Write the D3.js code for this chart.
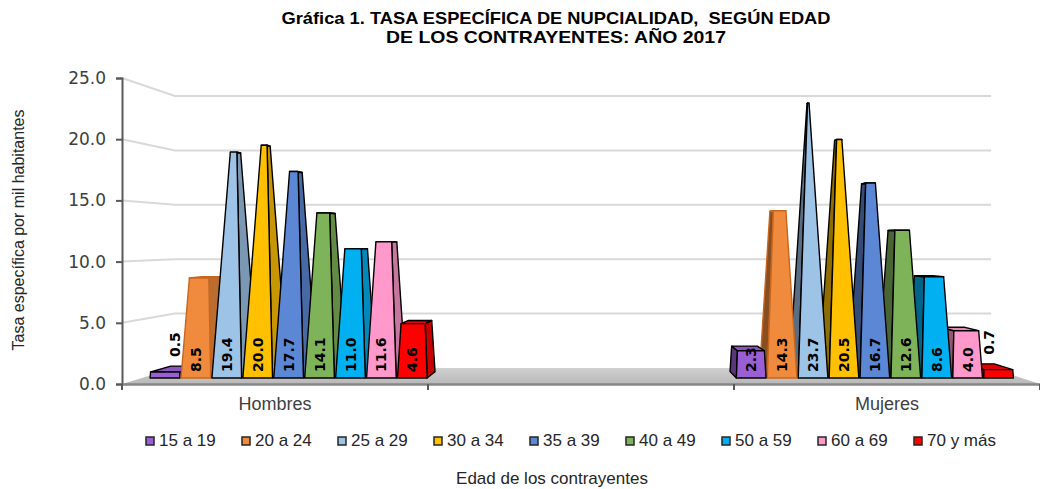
<!DOCTYPE html>
<html>
<head>
<meta charset="utf-8">
<script src="https://cdn.jsdelivr.net/npm/d3@7"></script>
<style>
  html, body { margin: 0; padding: 0; background: #fff; }
  svg { display: block; }
</style>
</head>
<body>
<svg id="chart" width="1040" height="489"></svg>
<script>
// ---------- data ----------
const categories = ["Hombres", "", "Mujeres"];
const ageGroups = ["15 a 19", "20 a 24", "25 a 29", "30 a 34", "35 a 39", "40 a 49", "50 a 59", "60 a 69", "70 y más"];
const hombres = [0.5, 8.5, 19.4, 20.0, 17.7, 14.1, 11.0, 11.6, 4.6];
const mujeres = [2.3, 14.3, 23.7, 20.5, 16.7, 12.6, 8.6, 4.0, 0.7];
const yTicks = [0, 5, 10, 15, 20, 25];
const colors = ["#9b5fd4", "#f08a3c", "#9dc3e6", "#ffc000", "#5b87d4", "#7fb35a", "#00b0f0", "#ff99cc", "#ff0000"];
const titleLines = ["Gráfica 1. TASA ESPECÍFICA DE NUPCIALIDAD,  SEGÚN EDAD", "DE LOS CONTRAYENTES: AÑO 2017"];
const yTitle = "Tasa específica por mil habitantes";
const xTitle = "Edad de los contrayentes";

const series = { "Hombres": hombres, "Mujeres": mujeres };

// ---------- geometry ----------
const svg = d3.select("#chart");
const vp = { x: 599, y: 240 };          // perspective centre
const backF = 0.889;                    // scale of back wall
const barU0 = 1 / 0.958, barU1 = 1 / 0.914; // bar depth (inverse scale)

const y = d3.scaleLinear().domain([0, 25]).range([384, 78]);
const x = d3.scaleBand().domain(categories).range([122, 1040]);

function proj(px, v, f) {
  return [vp.x + (px - vp.x) * f, vp.y + (y(v) - vp.y) * f];
}
function projBar(px, v, t) {
  const f = 1 / (barU0 + t * (barU1 - barU0));
  return proj(px, v, f);
}

// ---------- walls / grid ----------
const gGrid = svg.append("g");
yTicks.filter(d => d > 0).forEach(v => {
  const a = proj(122, v, 1), b = proj(122, v, backF), c = proj(1040, v, backF);
  gGrid.append("path")
    .attr("d", `M${a}L${b}L${c}`)
    .attr("fill", "none").attr("stroke", "#d9d9d9").attr("stroke-width", 2);
});

// floor
const fl = [proj(122, 0, 1), proj(122, 0, backF), proj(1040, 0, backF), proj(1040, 0, 1)];
const grad = svg.append("defs").append("linearGradient").attr("id", "floorG")
  .attr("x1", 0).attr("y1", 0).attr("x2", 0).attr("y2", 1);
grad.append("stop").attr("offset", "0%").attr("stop-color", "#d0d0d0");
grad.append("stop").attr("offset", "100%").attr("stop-color", "#b8b8b8");
svg.append("path").attr("d", "M" + fl.join("L") + "Z").attr("fill", "url(#floorG)");

// ---------- axes ----------
const yAxis = d3.axisLeft(y).tickValues(yTicks).tickFormat(d3.format(".1f")).tickSize(6).tickPadding(10);
const gy = svg.append("g").attr("transform", "translate(122,0)").call(yAxis);
gy.select(".domain").attr("stroke", "#595959").attr("stroke-width", 2);
gy.selectAll(".tick line").attr("stroke", "#595959").attr("stroke-width", 2);
gy.selectAll(".tick text").attr("font-family", "DejaVu Sans").attr("font-size", 17).attr("fill", "#404040");

const xAxis = d3.axisBottom(x).tickSize(0).tickPadding(13);
const gx = svg.append("g").attr("transform", "translate(0,384)").call(xAxis);
gx.select(".domain").attr("stroke", "#868686").attr("stroke-width", 2.5);
gx.selectAll(".tick text").attr("font-family", "Liberation Sans").attr("font-size", 18).attr("fill", "#404040");
// category boundary ticks
const bounds = categories.map(c => x(c)).concat([x.range()[1]]);
gx.selectAll(".bnd").data(bounds).enter().append("line")
  .attr("x1", d => d).attr("x2", d => d).attr("y1", 0).attr("y2", 6)
  .attr("stroke", "#595959").attr("stroke-width", 2);

// ---------- bars (truncated pyramids) ----------
const gBars = svg.append("g");
["Hombres", "Mujeres"].forEach(cat => {
  const vals = series[cat];
  const xb = d3.scaleBand().domain(ageGroups).range([x(cat), x(cat) + x.bandwidth()])
    .paddingInner(0.04).paddingOuter(0.26);
  let order = d3.range(ageGroups.length);
  const leftOfVp = x(cat) + x.bandwidth() / 2 < vp.x;
  if (!leftOfVp) order = order.reverse();
  order.forEach(i => {
    const v = vals[i];
    const xl = xb(ageGroups[i]), xr = xl + xb.bandwidth(), cx = (xl + xr) / 2, hw = (xr - xl) / 2;
    const r = 1 - v / 25;
    const tf = 0.5 - 0.5 * r, tb = 0.5 + 0.5 * r;
    const B = { lf: projBar(xl, 0, 0), rf: projBar(xr, 0, 0), lb: projBar(xl, 0, 1), rb: projBar(xr, 0, 1) };
    const T = { lf: projBar(cx - hw * r, v, tf), rf: projBar(cx + hw * r, v, tf),
                lb: projBar(cx - hw * r, v, tb), rb: projBar(cx + hw * r, v, tb) };
    const base = d3.color(colors[i]);
    const stroke = i === 1 ? "#c8661e" : "#000";
    const g = gBars.append("g").attr("stroke", stroke).attr("stroke-width", 1.4).attr("stroke-linejoin", "round");
    const poly = (pts, fill) => g.append("path").attr("d", "M" + pts.join("L") + "Z").attr("fill", fill);
    if (leftOfVp) poly([B.rf, B.rb, T.rb, T.rf], base.darker(0.7).formatHex());
    else poly([B.lf, B.lb, T.lb, T.lf], base.darker(1.6).formatHex());
    poly([T.lf, T.rf, T.rb, T.lb], base.darker(0.35).formatHex());
    poly([B.lf, B.rf, T.rf, T.lf], base.formatHex());

    // value label
    let lx, ly;
    if (v < 1.5) {
      const c = projBar(cx, v, 0.5);
      lx = c[0]; ly = c[1] - 12;
    } else {
      lx = (B.lf[0] + B.rf[0]) / 2; ly = 372;
    }
    gBars.append("text")
      .attr("transform", `translate(${lx},${ly}) rotate(-90)`)
      .attr("dy", "0.36em")
      .attr("font-family", "DejaVu Sans").attr("font-weight", "bold").attr("font-size", 14)
      .attr("fill", "#000")
      .text(d3.format(".1f")(v));
  });
});

// ---------- titles ----------
const titleWidths = [549, 340];
svg.append("g").selectAll("text").data(titleLines).enter().append("text")
  .attr("x", 556).attr("y", (d, i) => 24 + i * 19)
  .attr("text-anchor", "middle")
  .attr("xml:space", "preserve").style("white-space", "pre")
  .attr("textLength", (d, i) => titleWidths[i]).attr("lengthAdjust", "spacingAndGlyphs")
  .attr("font-family", "Liberation Sans").attr("font-weight", "bold").attr("font-size", 17)
  .attr("fill", "#000")
  .text(d => d);

svg.append("text")
  .attr("transform", "translate(24,230) rotate(-90)")
  .attr("text-anchor", "middle")
  .attr("font-family", "Liberation Sans").attr("font-size", 16).attr("fill", "#262626")
  .text(yTitle);

svg.append("text")
  .attr("x", 552).attr("y", 484).attr("text-anchor", "middle")
  .attr("font-family", "Liberation Sans").attr("font-size", 17).attr("fill", "#262626")
  .text(xTitle);

// ---------- legend ----------
const lg = svg.append("g").selectAll("g").data(ageGroups).enter().append("g")
  .attr("transform", (d, i) => `translate(${146 + i * 96},437)`);
lg.append("rect").attr("width", 8).attr("height", 8)
  .attr("fill", (d, i) => colors[i]).attr("stroke", "#262626").attr("stroke-width", 1.5);
lg.append("text").attr("x", 13).attr("y", 9)
  .attr("font-family", "Liberation Sans").attr("font-size", 17).attr("fill", "#262626")
  .text(d => d);
</script>
</body>
</html>
